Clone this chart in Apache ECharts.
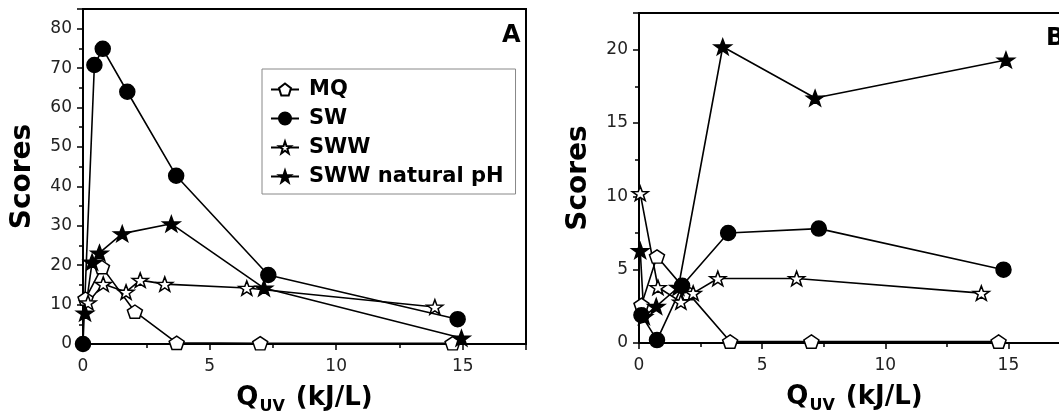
<!DOCTYPE html>
<html>
<head>
<meta charset="utf-8">
<script src="https://cdn.jsdelivr.net/npm/echarts@6/dist/echarts.min.js"></script>
<style>
  html, body { margin: 0; padding: 0; background: #fff; }
  #chart { width: 1059px; height: 414px; }
</style>
</head>
<body>
<div id="chart"></div>
<script>
// panel A  [Quv kJ/L, score]
const mqA = [[0.1, 11.5], [0.75, 19.5], [2.05, 8.2], [3.7, 0.3], [7.0, 0.2], [14.6, 0.2]];
const swA = [[0, 0], [0.45, 70.8], [0.78, 74.9], [1.75, 64], [3.68, 42.7], [7.32, 17.5], [14.8, 6.3]];
const swwA = [[0.2, 10.5], [0.8, 15.2], [1.7, 13.2], [2.26, 16.2], [3.23, 15.2], [6.47, 14.2], [13.9, 9.4]];
const swwNatA = [[0.08, 7.9], [0.36, 20.8], [0.65, 23.1], [1.55, 28], [3.49, 30.5], [7.15, 14.2], [14.95, 1.5]];

// panel B
const mqB = [[0.1, 2.6], [0.73, 5.9], [2.0, 3.4], [3.7, 0.1], [7.0, 0.1], [14.6, 0.1]];
const swB = [[0.1, 1.9], [0.73, 0.2], [1.75, 3.9], [3.62, 7.5], [7.3, 7.8], [14.8, 5.0]];
const swwB = [[0.05, 10.2], [0.77, 3.8], [1.7, 2.8], [2.2, 3.4], [3.2, 4.4], [6.4, 4.4], [13.9, 3.4]];
const swwNatB = [[0.05, 6.3], [0.2, 1.8], [0.7, 2.5], [1.6, 3.8], [3.4, 20.2], [7.15, 16.7], [14.9, 19.3]];

const names = ['MQ', 'SW', 'SWW', 'SWW natural pH'];
const xLabelMax = 15;
const yLabelMaxA = 80;
const yLabelMaxB = 20;

const starPath = 'path://M50,0L61.76,33.82L97.55,34.55L69.02,56.18L79.39,90.45L50,70L20.61,90.45L30.98,56.18L2.45,34.55L38.24,33.82Z';
const pentPath = 'path://M50,0L97.55,34.55L79.39,90.45L20.61,90.45L2.45,34.55Z';

const font = 'DejaVu Sans, sans-serif';

const symbolOf = {
  'MQ': { symbol: pentPath, size: [15, 14], fill: '#fff' },
  'SW': { symbol: 'circle', size: 15, fill: '#000' },
  'SWW': { symbol: starPath, size: [16, 15], fill: '#fff' },
  'SWW natural pH': { symbol: starPath, size: [17, 16], fill: '#000' }
};

function mkSeries(name, data, idx) {
  const s = symbolOf[name];
  return {
    name: name,
    type: 'line',
    xAxisIndex: idx,
    yAxisIndex: idx,
    data: data,
    symbol: s.symbol,
    symbolSize: s.size,
    symbolKeepAspect: true,
    showAllSymbol: true,
    lineStyle: { color: '#000', width: 1.6 },
    itemStyle: { color: s.fill, borderColor: '#000', borderWidth: 1.5 },
    emphasis: { disabled: true },
    z: 3
  };
}

function xAxisOf(idx) {
  return {
    type: 'value',
    gridIndex: idx,
    min: 0,
    max: 17.5,
    interval: 5,
    name: '{q|Q}{s|UV}{q| (kJ/L)}',
    nameLocation: 'middle',
    nameGap: 37,
    nameTextStyle: {
      rich: {
        q: { fontFamily: font, fontWeight: 'bold', fontSize: 26, color: '#000' },
        s: { fontFamily: font, fontWeight: 'bold', fontSize: 16, color: '#000', padding: [18, 2, 0, 1] }
      }
    },
    axisLine: { onZero: false, lineStyle: { color: '#000', width: 2 } },
    axisTick: { inside: false, length: 6, lineStyle: { color: '#000', width: 1.5 } },
    minorTick: { show: true, splitNumber: 2, length: 4, lineStyle: { color: '#000', width: 1.5 } },
    axisLabel: { fontFamily: font, fontSize: 17, color: '#222', margin: 14,
      formatter: v => (v > xLabelMax ? '' : String(v)) },
    splitLine: { show: false }
  };
}

function yAxisOf(idx, max, interval, labelMax) {
  return {
    type: 'value',
    gridIndex: idx,
    min: 0,
    max: max,
    interval: interval,
    name: 'Scores',
    nameLocation: 'middle',
    nameGap: 46,
    nameRotate: 90,
    nameTextStyle: { fontFamily: font, fontWeight: 'bold', fontSize: 28, color: '#000' },
    axisLine: { onZero: false, lineStyle: { color: '#000', width: 2 } },
    axisTick: { inside: false, length: 6, lineStyle: { color: '#000', width: 1.5 } },
    minorTick: { show: true, splitNumber: 2, length: 4, lineStyle: { color: '#000', width: 1.5 } },
    axisLabel: { fontFamily: font, fontSize: 17, color: '#222', margin: 11,
      formatter: v => (v > labelMax ? '' : String(v)) },
    splitLine: { show: false }
  };
}

const chart = echarts.init(document.getElementById('chart'));

const option = {
  backgroundColor: '#fff',
  animation: false,
  grid: [
    { left: 83, top: 9, width: 443, height: 335, show: true, borderColor: '#000', borderWidth: 2, outerBoundsMode: 'none' },
    { left: 639, top: 13, width: 431, height: 330, show: true, borderColor: '#000', borderWidth: 2, outerBoundsMode: 'none' }
  ],
  title: [
    { text: 'A', left: 497, top: 19, textStyle: { fontFamily: font, fontWeight: 'bold', fontSize: 24, color: '#000' } },
    { text: 'B', left: 1041, top: 22, textStyle: { fontFamily: font, fontWeight: 'bold', fontSize: 24, color: '#000' } }
  ],
  legend: {
    data: names,
    orient: 'vertical',
    left: 262,
    top: 69,
    padding: [10, 12, 7, 8],
    itemGap: 8,
    itemWidth: 28,
    itemHeight: 15,
    borderColor: '#888',
    borderWidth: 1,
    selectedMode: false,
    textStyle: { fontFamily: font, fontWeight: 'bold', fontSize: 21, color: '#000', padding: [0, 0, 0, 5] }
  },
  xAxis: [xAxisOf(0), xAxisOf(1)],
  yAxis: [yAxisOf(0, 85, 10, yLabelMaxA), yAxisOf(1, 22.5, 5, yLabelMaxB)],
  series: [
    mkSeries('MQ', mqA, 0),
    mkSeries('SW', swA, 0),
    mkSeries('SWW', swwA, 0),
    mkSeries('SWW natural pH', swwNatA, 0),
    mkSeries('MQ', mqB, 1),
    mkSeries('SW', swB, 1),
    mkSeries('SWW', swwB, 1),
    mkSeries('SWW natural pH', swwNatB, 1)
  ]
};

chart.setOption(option);
</script>
</body>
</html>
